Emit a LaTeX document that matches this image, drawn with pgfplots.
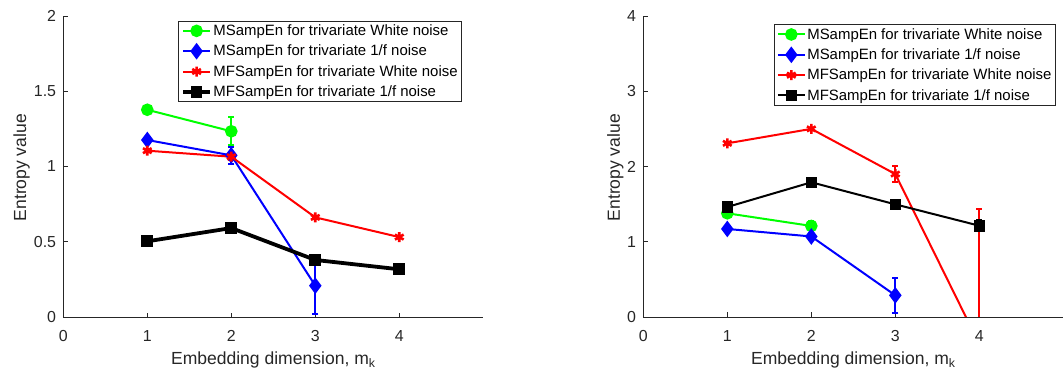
\documentclass[border=0pt]{standalone}
\usepackage{fontspec}
\setmainfont{Liberation Sans}
\usepackage{pgfplots}
\pgfplotsset{compat=1.18}
\definecolor{axgray}{gray}{0.15}
\definecolor{mgreen}{rgb}{0,1,0}
\definecolor{mblue}{rgb}{0,0,1}
\definecolor{mred}{rgb}{1,0,0}
\begin{document}
\begin{tikzpicture}
\pgfplotsset{
  mystyle/.style={
    scale only axis, width=420bp, height=301bp,
    xmin=0, xmax=5, ymin=0,
    axis x line=bottom, axis y line=left,
    axis line style={-, draw=axgray, line width=0.8bp},
    tick style={draw=axgray, line width=0.8bp},
    tick align=inside, major tick length=4.5bp,
    xtick={0,1,2,3,4},
    /pgf/number format/assume math mode=true,
    tick label style={font=\fontsize{16}{19}\selectfont, text=axgray},
    xticklabel style={inner sep=0pt, anchor=north, yshift=-13bp},
    yticklabel style={inner sep=0pt, anchor=east, xshift=-7bp},
    label style={font=\fontsize{17.6}{21}\selectfont, text=axgray},
    xlabel={Embedding dimension, m\textsubscript{k}},
    ylabel={Entropy value},
    xlabel style={at={(axis description cs:0.5,-0.1146)}, anchor=north, inner sep=0pt},
    legend style={font=\fontsize{15}{18}\selectfont, draw=axgray, line width=0.8bp, fill=white,
      inner xsep=2.5bp, inner ysep=2bp, nodes={inner sep=1.5bp}, anchor=north west,
      row sep=5bp, text=black},
    legend cell align=left,
    legend image code/.code={\draw[mark repeat=2,mark phase=2,##1] plot coordinates {(0bp,0bp) (13.5bp,0bp) (27bp,0bp)};},
  },
  ebar/.style={error bars/.cd, y dir=both, y explicit,
    error bar style={line width=2bp},
    error mark options={rotate=90, mark size=3bp, line width=2bp}},
  gst/.style={color=mgreen, line width=2bp, mark=*, mark size=5.3bp, mark options={solid, fill=mgreen}, ebar},
  bst/.style={color=mblue, line width=2bp, mark=diamond*, mark size=6.7bp, mark options={solid, fill=mblue}, ebar},
  rst/.style={color=mred, line width=2bp, mark=asterisk, mark size=5bp, mark options={solid, line width=2.6bp}, ebar},
  kst/.style={color=black, line width=#1, mark=square*, mark size=5.3bp, mark options={solid, fill=black, line width=1bp}, ebar},
}
% ---------------- left panel ----------------
\begin{axis}[mystyle, at={(0,0)}, anchor=south west,
  ymax=2, ytick={0,0.5,1,1.5,2},
  ylabel style={at={(axis description cs:-0.0888,0.496)}, anchor=base},
  legend style={at={(axis description cs:0.2738,0.984)}}]
\addplot[gst] coordinates {(1,1.377) +- (0,0) (2,1.234) +- (0,0.092)};
\addplot[bst] coordinates {(1,1.176) +- (0,0) (2,1.074) +- (0,0.055) (3,0.208) +- (0,0.19)};
\addplot[rst] coordinates {(1,1.105) +- (0,0.01) (2,1.065) +- (0,0.02) (3,0.662) +- (0,0) (4,0.531) +- (0,0)};
\addplot[kst=3.8bp] coordinates {(1,0.503) +- (0,0) (2,0.591) +- (0,0) (3,0.379) +- (0,0) (4,0.317) +- (0,0)};
\legend{MSampEn for trivariate White noise, MSampEn for trivariate 1/f noise, MFSampEn for trivariate White noise, MFSampEn for trivariate 1/f noise}
\end{axis}
% ---------------- right panel ----------------
\begin{axis}[mystyle, at={(580bp,0)}, anchor=south west,
  ymax=4, ytick={0,1,2,3,4},
  ylabel style={at={(axis description cs:-0.0555,0.496)}, anchor=base},
  legend style={at={(axis description cs:0.311,0.972)}}]
\addplot[gst] coordinates {(1,1.378) +- (0,0) (2,1.21) +- (0,0.06)};
\addplot[bst] coordinates {(1,1.17) +- (0,0) (2,1.07) +- (0,0.05) (3,0.288) +- (0,0.23)};
\addplot[rst] coordinates {(1,2.308) +- (0,0) (2,2.50) +- (0,0) (3,1.90) +- (0,0.11) (4,-0.36) +- (0,1.80)};
\addplot[kst=2bp] coordinates {(1,1.462) +- (0,0) (2,1.79) +- (0,0) (3,1.497) +- (0,0) (4,1.213) +- (0,0.07)};
\legend{MSampEn for trivariate White noise, MSampEn for trivariate 1/f noise, MFSampEn for trivariate White noise, MFSampEn for trivariate 1/f noise}
\end{axis}
\pgfresetboundingbox
\path[use as bounding box] (-63.3bp,-57bp) rectangle (999.7bp,317bp);
\end{tikzpicture}
\end{document}
